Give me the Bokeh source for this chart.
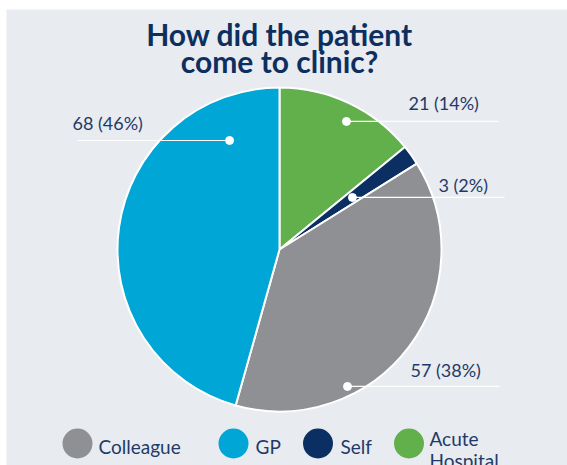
import numpy as np
from bokeh.plotting import figure
from bokeh.models import Range1d
from bokeh.core.properties import value
from bokeh.embed import file_html
from bokeh.resources import INLINE

# ---- data ----
categories = ["Acute Hospital", "Self", "Colleague", "GP"]   # clockwise from 12 o'clock
counts = [21, 3, 57, 68]
slice_colors = ["#62b04b", "#0b2f63", "#8f9094", "#00a6d6"]
legend_order = ["Colleague", "GP", "Self", "Acute Hospital"]
title_lines = ["How did the patient", "come to clinic?"]

# ---- layout (screen pixels) ----
W, H = 567, 465
ML, MT = 6, 9                     # white strip left / top of the grey panel
FW, FH = W - ML, H - MT
BG = "#e8ebf0"
TITLE_C = "#0d2f60"
LABEL_C = "#1f3a68"
FONT = value("Lato")
SHIFT = 0.4                        # baseline correction, fraction of font size


def X(sx):
    return sx - ML


def Y(sy):
    return H - sy


def TY(sy, fs):
    return Y(sy) + SHIFT * fs


cx, cy, R = 279, 249, 162
# label anchor (dot) in polar coords around the pie centre: angle deg, radius px
dot_angle = [62.4, 35.5, -63.6, 114.6]
dot_rad = [144.5, 89.6, 152.9, 119.9]
line_end_sx = [498, 504, 499, 77]
text_sx = [408, 438, 410, 72]
text_dy = [-11, -5, -9, -10]          # baseline offset from the leader line

p = figure(width=W, height=H, x_range=Range1d(0, FW), y_range=Range1d(0, FH),
           output_backend="svg", toolbar_location=None,
           min_border_left=ML, min_border_top=MT, min_border_right=0, min_border_bottom=0)
p.axis.visible = False
p.grid.visible = False
p.outline_line_color = None
p.background_fill_color = BG
p.border_fill_color = "white"

total = sum(counts)
fr = np.array(counts) / total
cum = np.concatenate([[0], np.cumsum(fr)])
starts = np.pi / 2 - cum[:-1] * 2 * np.pi
ends = np.pi / 2 - cum[1:] * 2 * np.pi

p.wedge(x=[X(cx)] * len(counts), y=[Y(cy)] * len(counts), radius=R,
        start_angle=list(starts), end_angle=list(ends), direction="clock",
        fill_color=slice_colors, line_color="white", line_width=2)

# data labels with leader lines
LFS = 18
labels = [f"{c} ({round(100 * c / total)}%)" for c in counts]
dxs, dys = [], []
for a, r in zip(dot_angle, dot_rad):
    dxs.append(X(cx) + r * np.cos(np.radians(a)))
    dys.append(Y(cy) + r * np.sin(np.radians(a)))
for i in range(len(counts)):
    p.line([dxs[i], X(line_end_sx[i])], [dys[i], dys[i]], line_color="white", line_width=1.2)
p.scatter(dxs, dys, size=8, fill_color="white", line_color="white")
p.text(x=[X(s) for s in text_sx],
       y=[dys[i] - text_dy[i] + SHIFT * LFS for i in range(len(counts))],
       text=labels, text_font=FONT, text_font_size=f"{LFS}px", text_color=LABEL_C,
       text_align="left", text_baseline="alphabetic")

# title
TFS = 30
p.text(x=[X(279), X(279)], y=[TY(45, TFS), TY(72, TFS)], text=title_lines, text_font=FONT,
       text_font_size=f"{TFS}px", text_font_style="bold", text_color=TITLE_C,
       text_align="center", text_baseline="alphabetic")

# legend
GFS = 19
leg_cx = [77, 233, 317.5, 408.5]
leg_tx = [98, 255, 340, 429]
col_of = dict(zip(categories, slice_colors))
p.scatter([X(s) for s in leg_cx], [Y(443)] * 4, size=30,
          fill_color=[col_of[c] for c in legend_order], line_color=None)
single = [(leg_tx[i], c) for i, c in enumerate(legend_order) if " " not in c]
p.text(x=[X(s) for s, _ in single], y=[TY(454, GFS)] * len(single), text=[c for _, c in single],
       text_font=FONT, text_font_size=f"{GFS}px", text_color=LABEL_C,
       text_align="left", text_baseline="alphabetic")
multi = [(leg_tx[i], c) for i, c in enumerate(legend_order) if " " in c]
for s, c in multi:
    parts = c.split(" ")
    p.text(x=[X(s)] * len(parts), y=[TY(446 + 22 * k, GFS) for k in range(len(parts))], text=parts,
           text_font=FONT, text_font_size=f"{GFS}px", text_color=LABEL_C,
           text_align="left", text_baseline="alphabetic")

open("out.html", "w").write(file_html(p, INLINE))
